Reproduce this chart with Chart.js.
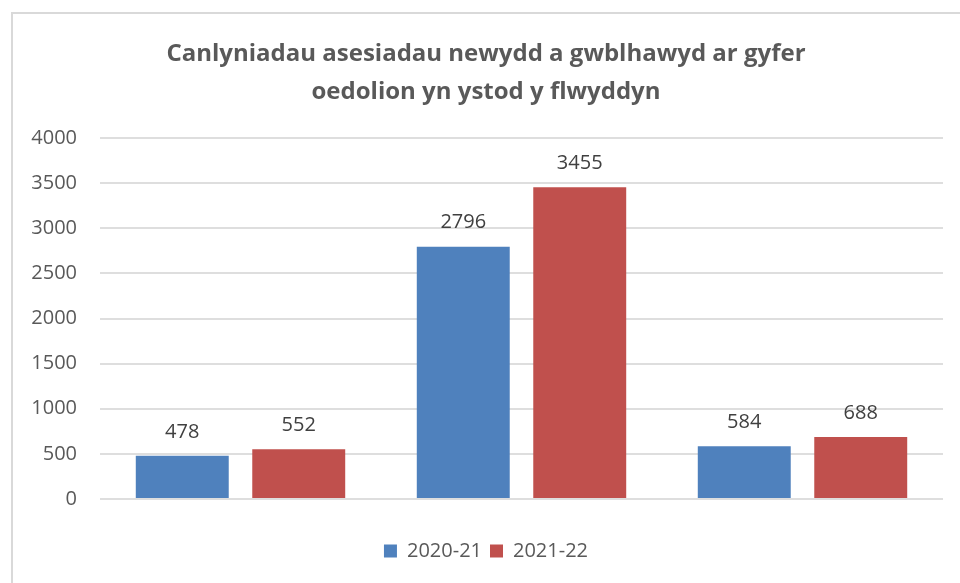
<!DOCTYPE html>
<html lang="cy">
<head>
  <meta charset="UTF-8">
  <title>Canlyniadau asesiadau newydd a gwblhawyd</title>
  <script src="https://cdn.jsdelivr.net/npm/chart.js"></script>
  <style>
    body { margin: 0; background: #fff; }
    #wrap { position: relative; width: 960px; height: 583px; }
    #frame { position: absolute; left: 11px; top: 12px; right: 0; bottom: 0;
             border-left: 2px solid #d9d9d9; border-top: 2px solid #d9d9d9; pointer-events: none; }
  </style>
</head>
<body>
  <div id="wrap">
    <canvas id="chart" width="960" height="583"></canvas>
    <div id="frame"></div>
  </div>

  <script>
    const categories = ['', '', ''];
    const seriesNames = ['2020-21', '2021-22'];
    const values2020 = [478, 2796, 584];
    const values2021 = [552, 3455, 688];
    const yTicks = [0, 500, 1000, 1500, 2000, 2500, 3000, 3500, 4000];

    const FONT = '"Open Sans", "Noto Sans", sans-serif';

    // write the value above every bar
    const valueLabels = {
      id: 'valueLabels',
      afterDatasetsDraw(chart) {
        const ctx = chart.ctx;
        ctx.save();
        ctx.font = '20px ' + FONT;
        ctx.fillStyle = '#404040';
        ctx.textAlign = 'center';
        ctx.textBaseline = 'middle';
        chart.data.datasets.forEach((ds, i) => {
          chart.getDatasetMeta(i).data.forEach((bar, j) => {
            ctx.fillText(ds.data[j], bar.x, bar.y - 24);
          });
        });
        ctx.restore();
      }
    };

    new Chart(document.getElementById('chart'), {
      type: 'bar',
      data: {
        labels: categories,
        datasets: [
          { label: seriesNames[0], data: values2020, backgroundColor: '#4F81BD' },
          { label: seriesNames[1], data: values2021, backgroundColor: '#C0504D' }
        ]
      },
      options: {
        responsive: false,
        animation: false,
        categoryPercentage: 0.829,
        barPercentage: 0.798,
        layout: { padding: { left: 29, right: 17, top: 0, bottom: 12 } },
        scales: {
          x: {
            grid: { display: false },
            border: { display: false },
            ticks: { display: false },
            afterFit: (s) => { s.height = 34; }
          },
          y: {
            min: yTicks[0],
            max: yTicks[yTicks.length - 1],
            afterBuildTicks: (s) => { s.ticks = yTicks.map(v => ({ value: v })); },
            afterFit: (s) => { s.width = 71; },
            grid: { color: '#dedede', lineWidth: 2, drawTicks: false },
            border: { display: false },
            ticks: {
              padding: 23, color: '#595959', font: { family: FONT, size: 20 },
              callback: (v) => String(v)
            }
          }
        },
        plugins: {
          tooltip: { enabled: false },
          title: {
            display: true,
            text: ['Canlyniadau asesiadau newydd a gwblhawyd ar gyfer', 'oedolion yn ystod y flwyddyn'],
            color: '#595959',
            font: { family: FONT, size: 24, weight: 'bold', lineHeight: '38px' },
            padding: { top: 35, bottom: 27 }
          },
          legend: {
            position: 'bottom',
            labels: {
              boxWidth: 13, boxHeight: 13, padding: 8,
              color: '#595959',
              font: { family: FONT, size: 20 }
            }
          }
        }
      },
      plugins: [valueLabels]
    });
  </script>
</body>
</html>
